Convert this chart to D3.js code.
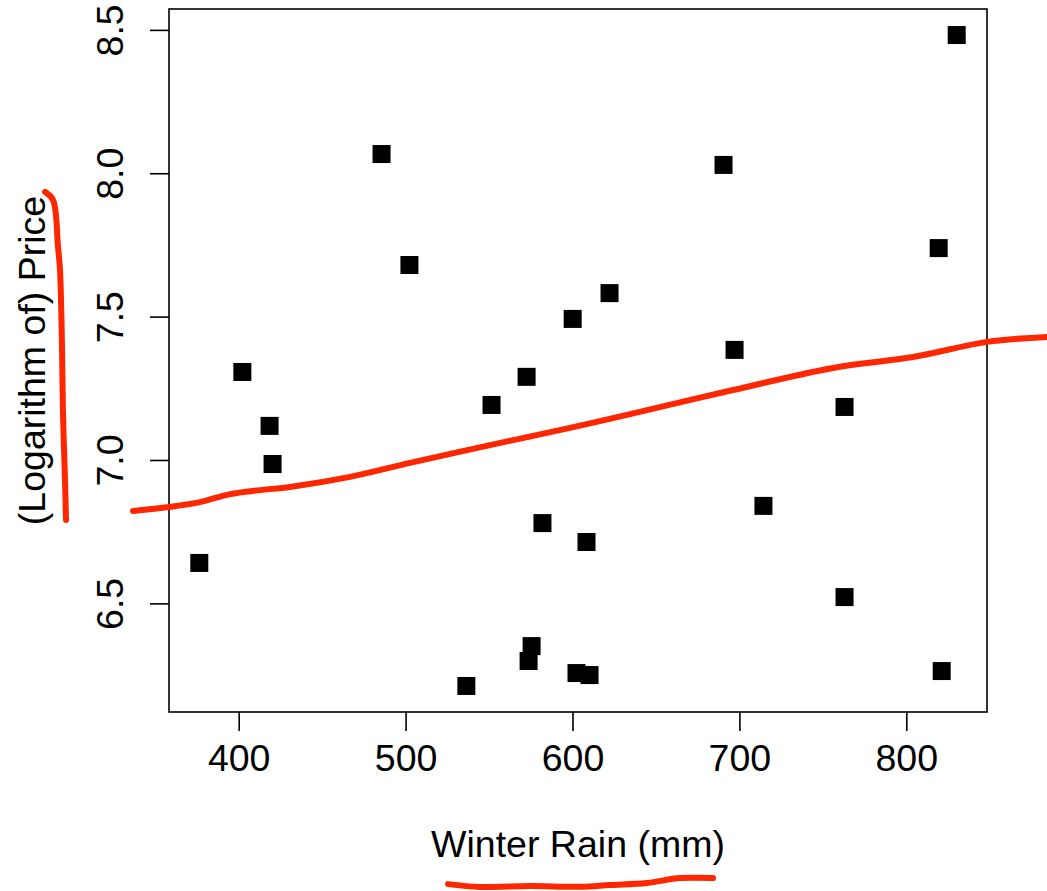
<!DOCTYPE html>
<html>
<head>
<meta charset="utf-8">
<script src="https://cdn.jsdelivr.net/npm/d3@7"></script>
<style>
  html, body { margin: 0; padding: 0; background: #fff; }
  svg { display: block; }
  text { font-family: "Liberation Sans", Arial, Helvetica, sans-serif; fill: #000; }
</style>
</head>
<body>
<svg id="chart" width="1047" height="891"></svg>
<script>
// ---- data ----
const winterRain = [485.6, 502.3, 622.2, 600.1, 402.2, 418.5, 572.5, 551.5, 420.3, 376.4,
                    582.0, 608.4, 536.4, 575.5, 573.7, 602.4, 610.2, 830.2, 690.5, 819.4,
                    697.1, 763.0, 714.4, 763.0, 821.2];
const logPrice   = [8.067, 7.680, 7.582, 7.492, 7.307, 7.119, 7.290, 7.192, 6.986, 6.641,
                    6.780, 6.714, 6.212, 6.351, 6.299, 6.257, 6.250, 8.482, 8.029, 7.739,
                    7.384, 7.185, 6.840, 6.522, 6.264];
const xTicks = [400, 500, 600, 700, 800];
const yTicks = [6.5, 7.0, 7.5, 8.0, 8.5];
const xLabel = "Winter Rain (mm)";
const yLabel = "(Logarithm of) Price";

// hand-drawn red trend curve (in data units)
const trendRain  = [336.7, 358.3, 376.8, 394.8, 412.8, 430.7, 466.7, 502.6, 550.6, 598.5, 634.5, 696.2, 756.1, 804.0, 848.4, 884.3];
const trendPrice = [6.822, 6.836, 6.853, 6.881, 6.895, 6.906, 6.941, 6.990, 7.052, 7.112, 7.160, 7.244, 7.321, 7.359, 7.412, 7.429];
// hand-drawn underline of the x label (data units, extrapolated)
const xMarkRain  = [525.4, 544.6, 574.6, 604.5, 622.5, 644.6, 664.4, 684.2];
const xMarkPrice = [5.521, 5.511, 5.514, 5.512, 5.518, 5.525, 5.542, 5.542];
// hand-drawn underline of the y label (data units, extrapolated)
const yMarkRain  = [283.96, 288.75, 291.75, 292.94, 294.14, 294.74, 295.94, 296.54];
const yMarkPrice = [7.935, 7.907, 7.743, 7.663, 7.394, 7.164, 6.930, 6.791];

// ---- layout ----
const W = 1047, H = 891;
const plot = { left: 169, right: 987, top: 9, bottom: 712 };
const fontSize = 37.5;
const red = "#ff2600";

function rDomain(arr) {
  const lo = d3.min(arr), hi = d3.max(arr), pad = (hi - lo) * 0.04;
  return [lo - pad, hi + pad];
}

const x = d3.scaleLinear().domain(rDomain(winterRain)).range([plot.left, plot.right]);
const y = d3.scaleLinear().domain(rDomain(logPrice)).range([plot.bottom, plot.top]);

const svg = d3.select("#chart");
svg.append("rect").attr("width", W).attr("height", H).attr("fill", "#fff");

// x axis
const xAxis = svg.append("g")
  .attr("transform", `translate(0,${plot.bottom})`)
  .call(d3.axisBottom(x).tickValues(xTicks).tickFormat(d3.format("d")).tickSize(19).tickPadding(40));
xAxis.select(".domain").remove();
xAxis.selectAll(".tick line").attr("stroke", "#000").attr("stroke-width", 1.6);
xAxis.selectAll(".tick text")
  .attr("font-size", fontSize).attr("font-family", "Liberation Sans, Arial, sans-serif")
  .attr("fill", "#000").attr("dy", "0");

// y axis
const yAxis = svg.append("g")
  .attr("transform", `translate(${plot.left},0)`)
  .call(d3.axisLeft(y).tickValues(yTicks).tickFormat(d3.format(".1f")).tickSize(19));
yAxis.select(".domain").remove();
yAxis.selectAll(".tick line").attr("stroke", "#000").attr("stroke-width", 1.6);
yAxis.selectAll(".tick text")
  .attr("font-size", fontSize).attr("font-family", "Liberation Sans, Arial, sans-serif")
  .attr("fill", "#000")
  .attr("x", null).attr("dy", null)
  .attr("text-anchor", "middle")
  .attr("transform", "translate(-46,0) rotate(-90)");

// box
svg.append("rect")
  .attr("x", plot.left).attr("y", plot.top)
  .attr("width", plot.right - plot.left).attr("height", plot.bottom - plot.top)
  .attr("fill", "none").attr("stroke", "#000").attr("stroke-width", 1.6);

// points
const sq = 18;
svg.append("g").selectAll("rect")
  .data(d3.zip(winterRain, logPrice))
  .join("rect")
  .attr("x", d => x(d[0]) - sq / 2)
  .attr("y", d => y(d[1]) - sq / 2)
  .attr("width", sq).attr("height", sq)
  .attr("fill", "#000");

// axis titles
svg.append("text")
  .attr("x", (plot.left + plot.right) / 2).attr("y", 857)
  .attr("text-anchor", "middle").attr("font-size", fontSize)
  .text(xLabel);
svg.append("text")
  .attr("transform", `translate(45,${(plot.top + plot.bottom) / 2}) rotate(-90)`)
  .attr("text-anchor", "middle").attr("font-size", fontSize)
  .text(yLabel);

// red hand-drawn annotations
const line = d3.line().x(d => x(d[0])).y(d => y(d[1])).curve(d3.curveCatmullRom.alpha(0.5));
function redPath(xs, ys, w) {
  svg.append("path")
    .datum(d3.zip(xs, ys))
    .attr("d", line)
    .attr("fill", "none").attr("stroke", red)
    .attr("stroke-width", w).attr("stroke-linecap", "round").attr("stroke-linejoin", "round");
}
redPath(trendRain, trendPrice, 6);
redPath(xMarkRain, xMarkPrice, 6);
redPath(yMarkRain, yMarkPrice, 6);
</script>
</body>
</html>
